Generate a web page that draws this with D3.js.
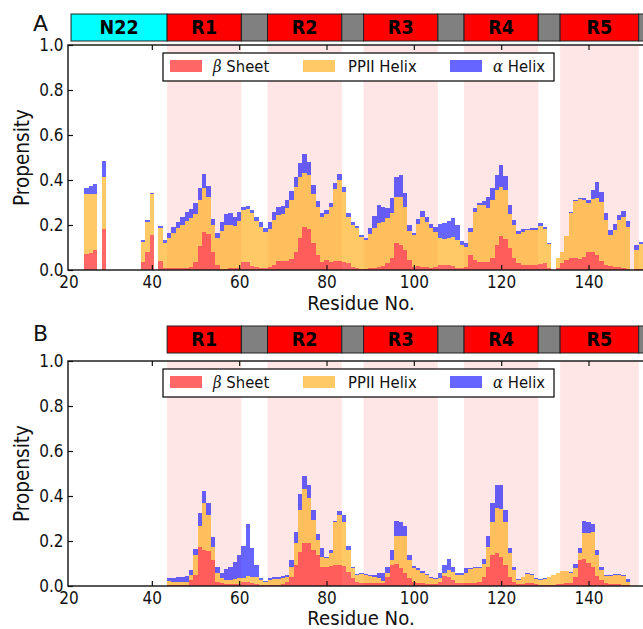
<!DOCTYPE html>
<html>
<head>
<meta charset="utf-8">
<script src="https://cdn.jsdelivr.net/npm/d3@7"></script>
<style>
  body { margin: 0; background: #fff; }
  svg { display: block; font-family: "DejaVu Sans", sans-serif; }
</style>
</head>
<body>
<svg id="grafico"></svg>
<script>
const largura = 643;
const altura = 629;

// Painel A: resíduos 25..152
const inicioA = 25;
const betaA = [
  .071,.074,.089,0,.182,0,0,0,0,0,
  0,0,0,.037,.081,.156,0,.040,.007,.007,
  .007,.008,.008,.010,.015,.037,.107,.167,.159,.079,
  .022,.005,.005,.007,.010,.010,.037,.034,.019,.015,
  .010,.010,.015,.022,.040,.040,.041,.047,.081,.141,
  .190,.181,.121,.067,.037,.044,.037,.040,.040,.037,
  .030,.015,.008,.005,.005,.007,.010,.015,.019,.030,
  .052,.119,.111,.089,.044,.015,.019,.015,.015,.010,
  .015,.022,.022,.022,.019,.010,.007,.015,.067,.044,
  .037,.034,.034,.052,.111,.150,.140,.096,.052,.030,
  .022,.022,.022,.022,.025,.030,.010,0,.007,.030,
  .044,.052,.052,.049,.059,.079,.079,.067,.040,.022,
  .019,.015,.015,.010,.005,0,.005,.005
];
const ppiiA = [
  .265,.262,.247,0,.233,0,0,0,0,0,
  0,0,0,.086,.134,.182,0,.148,.114,.134,
  .156,.177,.194,.209,.215,.214,.206,.198,.164,.121,
  .122,.170,.195,.195,.187,.209,.229,.237,.233,.202,
  .182,.158,.167,.202,.206,.209,.235,.264,.289,.274,
  .240,.241,.219,.213,.198,.206,.244,.320,.360,.308,
  .207,.185,.177,.142,.127,.152,.175,.192,.193,.203,
  .200,.207,.215,.192,.129,.141,.185,.222,.200,.175,
  .152,.119,.116,.119,.129,.123,.104,.089,.100,.215,
  .252,.255,.240,.259,.245,.220,.216,.153,.148,.129,
  .148,.154,.156,.158,.171,.152,.104,0,.048,.051,
  .109,.203,.255,.265,.252,.217,.237,.252,.264,.200,
  .137,.163,.207,.227,.188,0,.084,.109
];
const alfaA = [
  .027,.037,.045,0,.071,0,0,0,0,0,
  0,0,0,.010,.007,.006,0,.009,.011,.022,
  .030,.030,.035,.040,.040,.045,.050,.060,.050,.027,
  .022,.040,.049,.050,.040,.040,.015,.015,.015,.020,
  .020,.020,.030,.035,.035,.035,.035,.040,.045,.059,
  .084,.057,.038,.027,.017,.017,.015,.025,.027,.022,
  .015,.015,.011,.009,.009,.026,.056,.082,.067,.041,
  .067,.089,.096,.060,.027,.010,.023,.025,.022,.018,
  .026,.063,.069,.077,.082,.067,.018,.017,.021,.015,
  .007,.018,.052,.052,.066,.097,.063,.040,.022,.014,
  .011,.006,.007,.005,.011,.011,.008,0,0,0,
  0,.004,.004,.007,.008,.015,.040,.074,.044,.030,
  .022,.025,.022,.025,.025,0,.022,.012
];

// Painel B: resíduos 44..149
const inicioB = 44;
const betaB = [
  .004,.004,.004,.004,.004,.027,.049,.174,.159,.155,
  .115,.019,.012,.007,.007,.007,.007,.019,.019,.012,
  .008,.006,.004,.006,.006,.006,.008,.019,.041,.093,
  .152,.192,.189,.162,.137,.086,.086,.088,.093,.093,
  .090,.063,.034,.020,.015,.015,.012,.012,.012,.012,
  .040,.093,.096,.078,.056,.034,.020,.015,.012,.010,
  .008,.008,.020,.044,.041,.027,.015,.012,.015,.012,
  .015,.020,.041,.086,.137,.145,.127,.093,.041,.020,
  .008,.010,.012,.012,.008,.006,.006,.006,.006,.008,
  .010,.012,.015,.041,.115,.118,.103,.086,.044,.027,
  .012,.010,.010,.008,.006,.005
];
const ppiiB = [
  .018,.015,.015,.015,.015,.022,.088,.093,.211,.159,
  .059,.037,.022,.020,.020,.023,.027,.015,.025,.029,
  .030,.021,.014,.021,.024,.024,.026,.019,.045,.096,
  .187,.240,.203,.130,.067,.041,.039,.057,.192,.221,
  .195,.096,.046,.030,.038,.035,.033,.028,.023,.012,
  .020,.022,.125,.143,.165,.081,.058,.055,.048,.038,
  .028,.022,.014,.012,.030,.036,.035,.038,.045,.063,
  .063,.058,.059,.088,.148,.203,.217,.192,.104,.050,
  .019,.028,.041,.038,.024,.021,.026,.033,.041,.049,
  .056,.054,.045,.039,.030,.118,.133,.154,.093,.043,
  .033,.035,.038,.040,.037,.015
];
const alfaB = [
  .015,.015,.022,.022,.025,.022,.027,.059,.052,.055,
  .044,.030,.022,.047,.059,.078,.103,.143,.230,.130,
  .055,.007,.006,.007,.008,.008,.010,.011,.029,.051,
  .071,.059,.059,.044,.029,.040,.005,.014,.005,.018,
  .032,.018,.006,.003,.003,.003,.004,.009,.025,.036,
  .023,.044,.068,.064,.046,.022,.010,.008,.008,.005,
  .005,.004,.022,.037,.051,.023,.009,.009,.018,.006,
  .005,.005,.022,.047,.084,.103,.103,.054,.026,.016,
  .002,.003,.003,.003,.002,.002,.002,.002,.002,.002,
  .002,.002,.003,.017,.022,.053,.049,.034,.022,.013,
  .004,.004,.005,.005,.006,.009
];

// Domínios da proteína (limites em número de resíduo)
const dominioNomes  = ["N22", "R1", "", "R2", "", "R3", "", "R4", "", "R5", ""];
const dominioInicio = [21.5, 43.5, 60.5, 66.5, 83.5, 88.5, 105.5, 111.5, 128.5, 133.5, 151.5];
const dominioFim    = [43.5, 60.5, 66.5, 83.5, 88.5, 105.5, 111.5, 128.5, 133.5, 151.5, 170];

const ticksX = [20, 40, 60, 80, 100, 120, 140];
const ticksY = [0, 0.2, 0.4, 0.6, 0.8, 1.0];

const chaves = ["beta", "ppii", "alfa"];
const cores = { beta: "red", ppii: "orange", alfa: "blue" };
const legendaSimbolo = ["\u03b2", "", "\u03b1"];
const legendaTexto = ["Sheet", "PPII Helix", "Helix"];

const paineis = [
  { letra: "A", topo: 45, base: 270, barra: 14, letraY: 30.5, rotuloY: 310,
    inicio: inicioA, beta: betaA, ppii: ppiiA, alfa: alfaA, n22: true },
  { letra: "B", topo: 361, base: 586, barra: 326, letraY: 341, rotuloY: 624.5,
    inicio: inicioB, beta: betaB, ppii: ppiiB, alfa: alfaB, n22: false }
];

const svg = d3.select("#grafico")
  .attr("width", largura)
  .attr("height", altura);

svg.append("rect").attr("width", largura).attr("height", altura).attr("fill", "#fff");

const esquerda = 68;
const x = d3.scaleLinear().domain([20, 140]).range([64.5, 588.5]);
const aperto = "scale(0.9,1)"; // texto um pouco estreito como na figura

paineis.forEach(p => {
  const y = d3.scaleLinear().domain([0, 1]).range([p.base, p.topo]);
  const g = svg.append("g");

  // Faixas rosa das repetições
  dominioNomes.forEach((nome, i) => {
    if (!nome.startsWith("R")) return;
    g.append("rect")
      .attr("x", x(dominioInicio[i]))
      .attr("y", p.topo)
      .attr("width", x(dominioFim[i]) - x(dominioInicio[i]))
      .attr("height", p.base - p.topo)
      .attr("fill", "#ffe6e6");
  });

  // Barras empilhadas
  const dados = p.beta.map((b, i) => ({
    res: p.inicio + i, beta: b, ppii: p.ppii[i], alfa: p.alfa[i]
  }));
  const pilha = d3.stack().keys(chaves)(dados);

  g.append("g").selectAll("g")
    .data(pilha)
    .join("g")
    .attr("fill", d => cores[d.key])
    .attr("fill-opacity", 0.6)
    .selectAll("rect")
    .data(d => d.filter(v => v[1] - v[0] > 0))
    .join("rect")
    .attr("shape-rendering", "crispEdges")
    .attr("x", d => x(d.data.res - 0.5))
    .attr("width", d => x(d.data.res + 0.5) - x(d.data.res - 0.5))
    .attr("y", d => y(d[1]))
    .attr("height", d => y(d[0]) - y(d[1]));

  // Eixos (ticks para dentro)
  const eixoX = g.append("g")
    .attr("transform", `translate(0, ${p.base})`)
    .call(d3.axisBottom(x).tickValues(ticksX).tickSize(-5).tickPadding(6).tickFormat(d3.format("d")));
  const eixoTopo = g.append("g")
    .attr("transform", `translate(0, ${p.topo})`)
    .call(d3.axisTop(x).tickValues(ticksX.slice(1)).tickSize(-5).tickFormat(""));
  const eixoY = g.append("g")
    .attr("transform", `translate(${esquerda}, 0)`)
    .call(d3.axisLeft(y).tickValues(ticksY).tickSize(-5).tickPadding(5).tickFormat(d3.format(".1f")));

  [eixoX, eixoTopo, eixoY].forEach(e => {
    e.select(".domain").remove();
    e.selectAll("line").attr("stroke", "#111").attr("stroke-width", 1.2);
    e.selectAll("text").attr("font-size", 17).attr("fill", "#111")
      .attr("font-family", "DejaVu Sans").attr("transform", aperto);
  });
  // o rótulo "20" fica junto à moldura, como no original
  const tick20 = eixoX.selectAll(".tick").filter(d => d === 20);
  tick20.select("line").remove();
  tick20.select("text").attr("x", 4.5);

  // Moldura
  g.append("rect")
    .attr("x", esquerda)
    .attr("y", p.topo)
    .attr("width", 700)
    .attr("height", p.base - p.topo)
    .attr("fill", "none")
    .attr("stroke", "#111")
    .attr("stroke-width", 1.4);

  // Rótulos
  g.append("text")
    .attr("transform", `translate(28.5, ${(p.topo + p.base) / 2}) rotate(-90) ${aperto}`)
    .attr("text-anchor", "middle")
    .attr("font-size", 20.5)
    .attr("fill", "#111")
    .text("Propensity");

  g.append("text")
    .attr("transform", `translate(361, ${p.rotuloY}) scale(0.93,1)`)
    .attr("text-anchor", "middle")
    .attr("font-size", 19.5)
    .attr("fill", "#111")
    .text("Residue No.");

  g.append("text")
    .attr("x", 40.5)
    .attr("y", p.letraY)
    .attr("text-anchor", "middle")
    .attr("font-size", 22)
    .attr("fill", "#111")
    .text(p.letra);

  // Barra de domínios
  dominioNomes.forEach((nome, i) => {
    if (nome === "N22" && !p.n22) return;
    const cor = nome === "N22" ? "#00ffff" : (nome ? "#ff0000" : "#808080");
    g.append("rect")
      .attr("x", x(dominioInicio[i]))
      .attr("y", p.barra)
      .attr("width", x(dominioFim[i]) - x(dominioInicio[i]))
      .attr("height", 27)
      .attr("fill", cor)
      .attr("stroke", "#222")
      .attr("stroke-width", 1);
    if (nome) {
      g.append("text")
        .attr("transform", `translate(${x((dominioInicio[i] + dominioFim[i]) / 2)}, ${p.barra + 19.5}) ${aperto}`)
        .attr("text-anchor", "middle")
        .attr("font-size", 19.5)
        .attr("font-weight", "bold")
        .attr("fill", "#000")
        .text(nome);
    }
  });

  // Legenda
  const leg = g.append("g").attr("transform", `translate(163, ${p.topo + 8})`);
  leg.append("rect")
    .attr("width", 391).attr("height", 28)
    .attr("fill", "#fff").attr("stroke", "#000").attr("stroke-width", 1.2);
  const posPatch = [7, 140, 287];
  const posTexto = [50, 185, 330];
  chaves.forEach((k, i) => {
    leg.append("rect")
      .attr("x", posPatch[i]).attr("y", 7)
      .attr("width", 32).attr("height", 12)
      .attr("fill", cores[k]).attr("fill-opacity", 0.6);
    const t = leg.append("text")
      .attr("transform", `translate(${posTexto[i]}, 18.7) ${aperto}`)
      .attr("font-size", 16.5)
      .attr("fill", "#111");
    if (legendaSimbolo[i]) {
      t.append("tspan")
        .attr("font-family", "DejaVu Serif")
        .attr("font-style", "italic")
        .text(legendaSimbolo[i]);
      t.append("tspan").text(" " + legendaTexto[i]);
    } else {
      t.text(legendaTexto[i]);
    }
  });
});
</script>
</body>
</html>
